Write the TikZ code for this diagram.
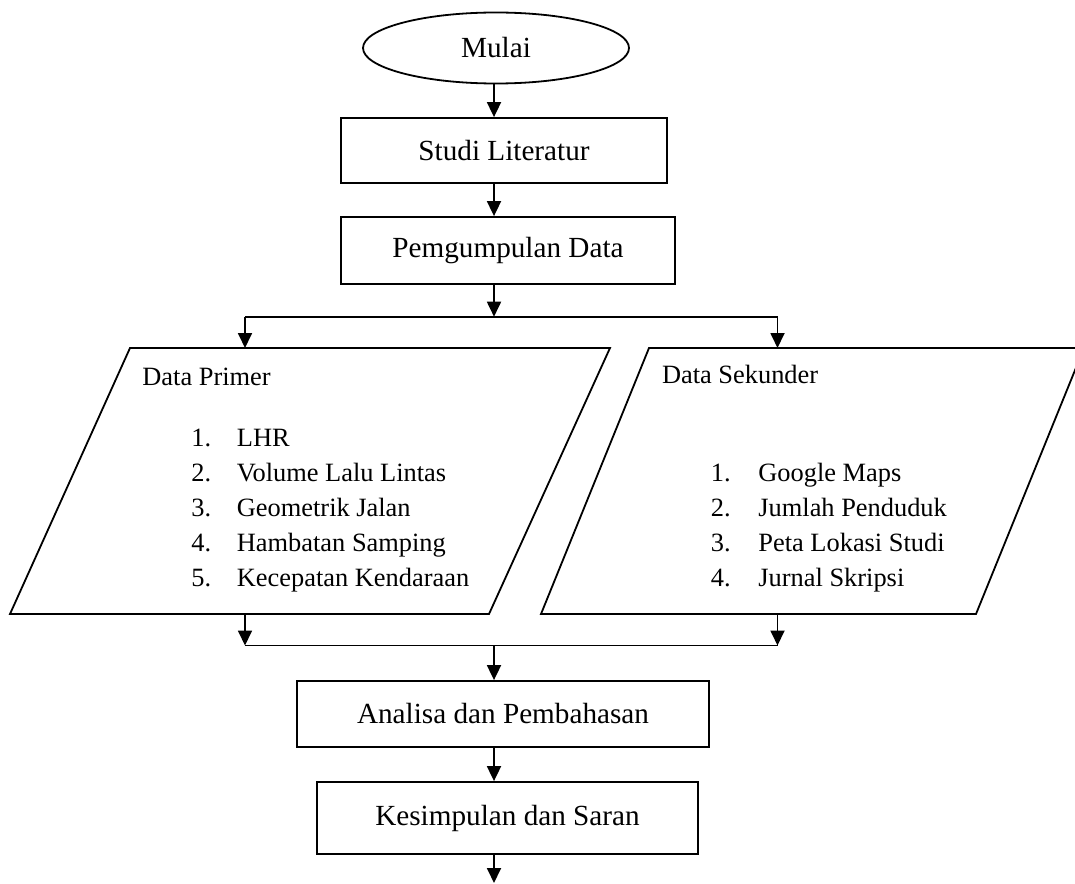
\documentclass[tikz,border=0pt]{standalone}
\usepackage{fontspec}
\setmainfont{Liberation Serif}
\usetikzlibrary{shapes.geometric, arrows.meta}

\tikzset{
	flow/.style={draw, rectangle, line width=0.9pt, inner sep=0pt},
	line/.style={line width=0.9pt},
	arr/.style={line width=0.9pt, -{Triangle[length=7.5pt, width=7pt]}},
	item/.style={anchor=base west, inner sep=0pt, font=\fontsize{13.2}{16}\selectfont},
}

\begin{document}
\begin{tikzpicture}[x=0.5pt, y=-0.5pt, font=\fontsize{14.6}{17}\selectfont]
	\useasboundingbox (0, 0) rectangle (1075, 883);
	% main column
	\node (mulai) at (496, 48)	[draw, ellipse, line width=0.9pt, minimum width=133pt, minimum height=35.5pt, inner sep=0pt] {Mulai};
	\node (studi) at (504, 150.5)	[flow, minimum width=163pt, minimum height=32.5pt]	{Studi Literatur};
	\node (kumpul) at (508, 250.5)	[flow, minimum width=167pt, minimum height=33.5pt]	{Pemgumpulan Data};
	\node (analisa) at (503, 714)	[flow, minimum width=206pt, minimum height=33pt]	{Analisa dan Pembahasan};
	\node (simpul) at (507.5, 818)	[flow, minimum width=190.5pt, minimum height=36pt]	{Kesimpulan dan Saran};

	% the two data boxes
	\coordinate (pa) at (10, 614);	\coordinate (pb) at (489, 614);
	\coordinate (pc) at (610, 348);	\coordinate (pd) at (130, 348);
	\coordinate (sa) at (541, 614);	\coordinate (sb) at (976, 614);
	\coordinate (sc) at (1084, 348);	\coordinate (sd) at (649, 348);
	\draw[line] (pa) -- (pb) -- (pc) -- (pd) -- cycle;
	\draw[line] (sa) -- (sb) -- (sc) -- (sd) -- cycle;

	\node (primer) at (142, 385)	[item]	{Data Primer};
	\foreach \t [count=\i] in {LHR, Volume Lalu Lintas, Geometrik Jalan, Hambatan Samping, Kecepatan Kendaraan} {
		\node (pn\i) at (191, 446.7 + 35*\i - 35)	[item]	{\i.};
		\node (pt\i) at (236.5, 446.7 + 35*\i - 35)	[item]	{\t};
	}
	\node (sekunder) at (661.6, 383.3)	[item]	{Data Sekunder};
	\foreach \t [count=\i] in {Google Maps, Jumlah Penduduk, Peta Lokasi Studi, Jurnal Skripsi} {
		\node (sn\i) at (710.4, 481.7 + 35*\i - 35)	[item]	{\i.};
		\node (st\i) at (758, 481.7 + 35*\i - 35)	[item]	{\t};
	}

	% connector points
	\coordinate (split) at (494, 316.7);
	\coordinate (splitL) at (245, 316.7);	\coordinate (splitR) at (777.5, 316.7);
	\coordinate (pin) at (245, 348);	\coordinate (sin) at (777.5, 348);
	\coordinate (pout) at (245, 614);	\coordinate (sout) at (777.5, 614);
	\coordinate (join) at (494, 645.5);
	\coordinate (joinL) at (245, 645.5);	\coordinate (joinR) at (777.5, 645.5);
	\coordinate (akhir) at (494, 883);

	\draw[arr] (mulai.south -| split)	--	(studi.north -| split);
	\draw[arr] (studi.south -| split)	--	(kumpul.north -| split);
	\draw[arr] (kumpul.south -| split)	--	(split);
	\draw[line] (splitL) -- (splitR);
	\draw[arr] (splitL) -- (pin);
	\draw[arr] (splitR) -- (sin);
	\draw[arr] (pout) -- (joinL);
	\draw[arr] (sout) -- (joinR);
	\draw[line] (joinL) -- (joinR);
	\draw[arr] (join)	--	(analisa.north -| join);
	\draw[arr] (analisa.south -| join)	--	(simpul.north -| join);
	\draw[arr] (simpul.south -| join)	--	(akhir);
\end{tikzpicture}
\end{document}
